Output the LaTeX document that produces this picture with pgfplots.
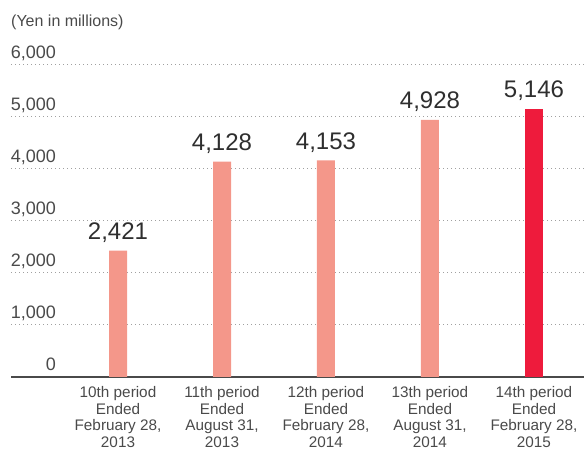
\documentclass[border=0pt]{standalone}
\usepackage{pgfplots}
\pgfplotsset{compat=1.18}
\usepackage{fontspec}
\setmainfont{Liberation Sans}
\definecolor{barpink}{HTML}{F4978A}
\definecolor{barred}{HTML}{EE1B3C}
\definecolor{txt}{HTML}{2E2E2E}
\definecolor{lbl}{HTML}{4A4A4A}
\definecolor{gridc}{HTML}{A0A0A0}
\begin{document}
\begin{tikzpicture}
\path[use as bounding box] (0,0) rectangle (584pt,450pt);
\begin{axis}[
  at={(11pt,73pt)}, anchor=south west,
  scale only axis, width=573pt, height=313pt,
  xmin=-1.029, xmax=4.481, ymin=0, ymax=6000,
  axis line style={draw=none},
  tick style={draw=none},
  ytick={1000,2000,3000,4000,5000,6000},
  extra y ticks={0},
  extra y tick style={grid style={solid, draw=lbl, line width=1.3pt}},
  ymajorgrids,
  grid style={draw=gridc, line width=1pt, dash pattern=on 1pt off 3pt},
  scaled y ticks=false,
  /pgf/number format/.cd, 1000 sep={,}, assume math mode=true, /pgfplots/.cd,
  yticklabel style={anchor=base east, xshift=45pt, yshift=6pt, text=lbl, font=\fontsize{18}{20}\selectfont, inner sep=0pt},
  xtick={0,1,2,3,4},
  xticklabels={{10th period\\Ended\\February 28,\\2013},{11th period\\Ended\\August 31,\\2013},{12th period\\Ended\\February 28,\\2014},{13th period\\Ended\\August 31,\\2014},{14th period\\Ended\\February 28,\\2015}},
  xticklabel style={align=center, text=lbl, font=\fontsize{15.3}{16.6}\selectfont, anchor=north, yshift=-5pt, inner sep=0pt},
  ybar, bar width=18pt, bar shift=0pt,
  nodes near coords,
  nodes near coords style={text=txt, font=\fontsize{24}{26}\selectfont, anchor=base, yshift=11pt, inner sep=0pt},
  axis on top=false,
  clip=false,
]
\addplot[fill=barpink, draw=none] coordinates {(0,2421) (1,4128) (2,4153) (3,4928)};
\addplot[fill=barred, draw=none] coordinates {(4,5146)};
\end{axis}
\node[anchor=base west, text=lbl, font=\fontsize{16}{18}\selectfont, inner sep=0pt] at (11pt,423pt) {(Yen in millions)};
\end{tikzpicture}
\end{document}
